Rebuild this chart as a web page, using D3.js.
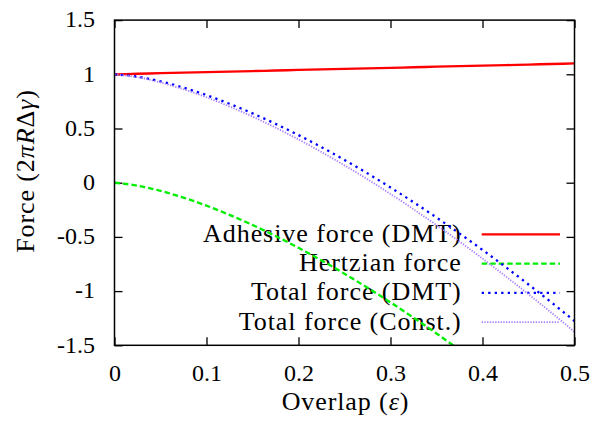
<!DOCTYPE html>
<html>
<head>
<meta charset="utf-8">
<script src="https://cdn.jsdelivr.net/npm/d3@7"></script>
<style>
  html, body { margin: 0; padding: 0; background: #fff; }
  svg text { font-family: "Liberation Serif", "Times New Roman", serif; }
</style>
</head>
<body>
<svg id="chart" width="600" height="423"></svg>
<script>
// Overlap values and the force curves, in units of 2πRΔγ
const overlap     = [0, 0.025, 0.05, 0.075, 0.1, 0.125, 0.15, 0.175, 0.2, 0.225, 0.25,
                     0.275, 0.3, 0.325, 0.35, 0.375, 0.4, 0.425, 0.45, 0.475, 0.5];
const adhesiveDMT = [1.000, 1.005, 1.010, 1.015, 1.020, 1.025, 1.030, 1.035, 1.040, 1.045, 1.050,
                     1.055, 1.060, 1.065, 1.070, 1.075, 1.080, 1.085, 1.090, 1.095, 1.100];
const hertzian    = [0, -0.027, -0.075, -0.138, -0.212, -0.297, -0.390, -0.492, -0.601, -0.717, -0.840,
                     -0.969, -1.104, -1.245, -1.391, -1.543, -1.700, -1.862, -2.029, -2.200, -2.376];
const totalDMT    = [1.000, 0.978, 0.935, 0.877, 0.808, 0.728, 0.640, 0.543, 0.439, 0.328, 0.210,
                     0.086, -0.044, -0.180, -0.321, -0.468, -0.620, -0.777, -0.939, -1.105, -1.276];
const totalConst  = [1.000, 0.973, 0.925, 0.862, 0.788, 0.703, 0.610, 0.508, 0.399, 0.283, 0.160,
                     0.031, -0.104, -0.245, -0.391, -0.543, -0.700, -0.862, -1.029, -1.200, -1.376];

const xTicks = [0, 0.1, 0.2, 0.3, 0.4, 0.5];
const xTickLabels = ["0", "0.1", "0.2", "0.3", "0.4", "0.5"];
const yTicks = [-1.5, -1, -0.5, 0, 0.5, 1, 1.5];
const yTickLabels = ["-1.5", "-1", "-0.5", "0", "0.5", "1", "1.5"];

const seriesNames = ["Adhesive force (DMT)", "Hertzian force", "Total force (DMT)", "Total force (Const.)"];
const seriesValues = [adhesiveDMT, hertzian, totalDMT, totalConst];

const styles = [
  { color: "#ff0000", width: 2.3, dash: null },
  { color: "#00ee00", width: 2.3, dash: "5.5 3" },
  { color: "#0000ff", width: 2.3, dash: "2.3 4.2" },
  { color: "#a87fff", width: 1.8, dash: "1.3 1.4" }
];

const svg = d3.select("#chart");
const margin = { left: 114.5, top: 20.1, right: 25.5, bottom: 77.7 };
const W = 600 - margin.left - margin.right;
const H = 423 - margin.top - margin.bottom;

const x = d3.scaleLinear().domain([0, 0.5]).range([0, W]);
const y = d3.scaleLinear().domain([-1.5, 1.5]).range([H, 0]);

const g = svg.append("g").attr("transform", `translate(${margin.left},${margin.top})`);

g.append("clipPath").attr("id", "plot-clip")
  .append("rect").attr("x", 0).attr("y", 0).attr("width", W).attr("height", H);

// Axes: inward ticks on all four sides, labels only on the left and bottom
const fmtX = d => xTickLabels[xTicks.indexOf(d)];
const fmtY = d => yTickLabels[yTicks.indexOf(d)];

const axisStyle = sel => {
  sel.attr("font-family", null).attr("font-size", null);
  sel.selectAll(".domain").remove();
  sel.selectAll(".tick line").attr("stroke", "#000").attr("stroke-width", 1.3);
  sel.selectAll("text").attr("fill", "#000").attr("font-size", 24);
};

const xAxisG = g.append("g").attr("transform", `translate(0,${H})`)
  .call(d3.axisBottom(x).tickValues(xTicks).tickFormat(fmtX).tickSizeInner(-8).tickSizeOuter(0).tickPadding(19))
  .call(axisStyle);
g.append("g")
  .call(d3.axisTop(x).tickValues(xTicks).tickFormat("").tickSizeInner(-8).tickSizeOuter(0))
  .call(axisStyle);
const yAxisG = g.append("g")
  .call(d3.axisLeft(y).tickValues(yTicks).tickFormat(fmtY).tickSizeInner(-8).tickSizeOuter(0).tickPadding(19.5))
  .call(axisStyle);
g.append("g").attr("transform", `translate(${W},0)`)
  .call(d3.axisRight(y).tickValues(yTicks).tickFormat("").tickSizeInner(-8).tickSizeOuter(0))
  .call(axisStyle);

xAxisG.selectAll(".tick text").attr("dy", "0.71em");
yAxisG.selectAll(".tick text").attr("dy", "0.28em");

// Legend text (drawn beneath the curves)
const legendRight = 461.7 - margin.left;
const legendX0 = 481.7 - margin.left;
const legendX1 = 560 - margin.left;
const legendY0 = 234.3 - margin.top;
const legendStep = 29.3;

const legend = g.append("g");
seriesNames.forEach((name, i) => {
  legend.append("text")
    .attr("x", legendRight)
    .attr("y", legendY0 + i * legendStep + 7.6)
    .attr("text-anchor", "end")
    .attr("font-size", 26)
    .attr("letter-spacing", 0.95)
    .attr("fill", "#000")
    .text(name);
});

// Curves and their legend samples
const line = d3.line()
  .x((d, i) => x(overlap[i]))
  .y(d => y(d))
  .curve(d3.curveMonotoneX);

seriesValues.forEach((vals, i) => {
  const s = styles[i];
  g.append("path")
    .datum(vals)
    .attr("clip-path", "url(#plot-clip)")
    .attr("fill", "none")
    .attr("stroke", s.color)
    .attr("stroke-width", s.width)
    .attr("stroke-dasharray", s.dash)
    .attr("d", line);
  legend.append("line")
    .attr("x1", legendX0).attr("x2", legendX1)
    .attr("y1", legendY0 + i * legendStep).attr("y2", legendY0 + i * legendStep)
    .attr("stroke", s.color)
    .attr("stroke-width", s.width)
    .attr("stroke-dasharray", s.dash);
});

// Plot border
g.append("rect")
  .attr("x", 0).attr("y", 0).attr("width", W).attr("height", H)
  .attr("fill", "none").attr("stroke", "#000").attr("stroke-width", 1.5);

// Axis titles
svg.append("text")
  .attr("x", margin.left + W / 2 + 1)
  .attr("y", 410)
  .attr("text-anchor", "middle")
  .attr("font-size", 26)
  .attr("letter-spacing", 0.9)
  .attr("fill", "#000")
  .call(t => {
    t.append("tspan").text("Overlap (");
    t.append("tspan").attr("font-style", "italic").text("ε");
    t.append("tspan").text(")");
  });

svg.append("text")
  .attr("transform", "translate(34,171) rotate(-90)")
  .attr("text-anchor", "middle")
  .attr("font-size", 26)
  .attr("letter-spacing", 0.9)
  .attr("fill", "#000")
  .call(t => {
    t.append("tspan").text("Force (2");
    t.append("tspan").attr("font-style", "italic").text("πR");
    t.append("tspan").text("Δ");
    t.append("tspan").attr("font-style", "italic").text("γ");
    t.append("tspan").text(")");
  });
</script>
</body>
</html>
